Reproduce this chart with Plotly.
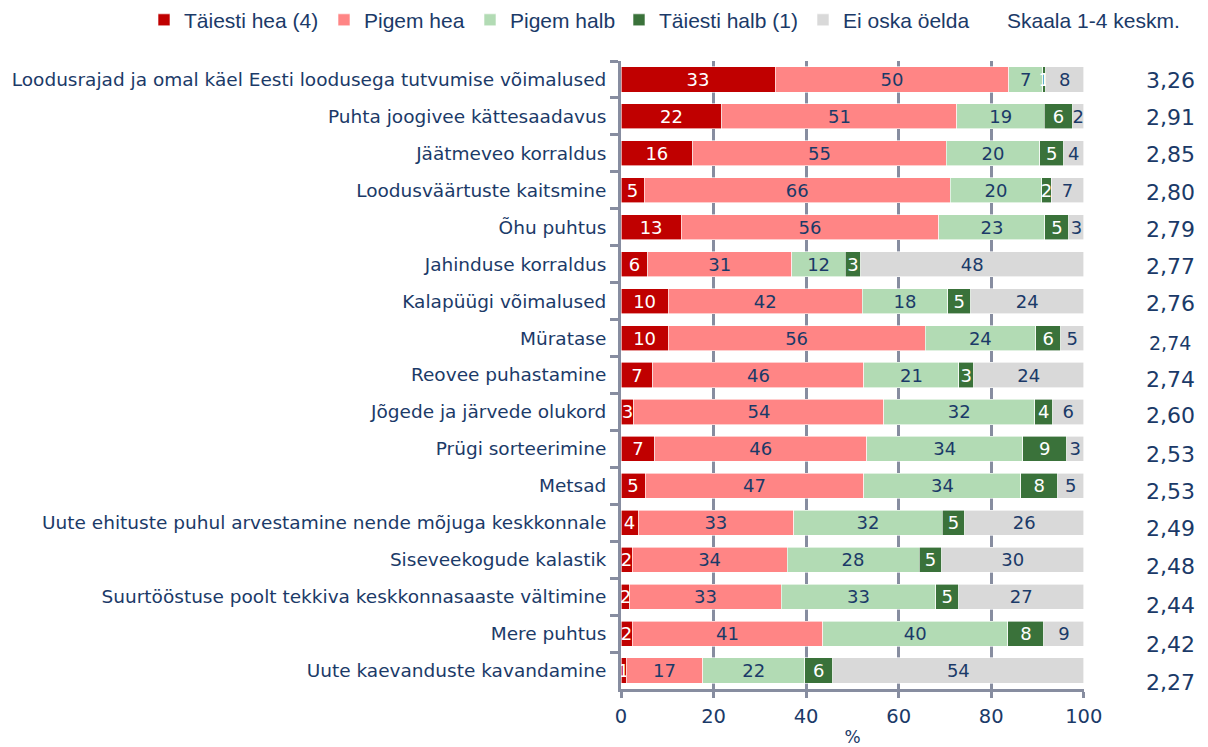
import plotly.graph_objects as go

categories = [
    "Loodusrajad ja omal käel Eesti loodusega tutvumise võimalused",
    "Puhta joogivee kättesaadavus",
    "Jäätmeveo korraldus",
    "Loodusväärtuste kaitsmine",
    "Õhu puhtus",
    "Jahinduse korraldus",
    "Kalapüügi võimalused",
    "Müratase",
    "Reovee puhastamine",
    "Jõgede ja järvede olukord",
    "Prügi sorteerimine",
    "Metsad",
    "Uute ehituste puhul arvestamine nende mõjuga keskkonnale",
    "Siseveekogude kalastik",
    "Suurtööstuse poolt tekkiva keskkonnasaaste vältimine",
    "Mere puhtus",
    "Uute kaevanduste kavandamine",
]

series_names = ["Täiesti hea (4)", "Pigem hea", "Pigem halb", "Täiesti halb (1)", "Ei oska öelda"]

# bar lengths (share, %)
tais_hea = [33.3, 21.8, 15.5, 5.0, 13.0, 5.8, 10.2, 10.2, 6.9, 2.8, 7.3, 5.2, 3.7, 2.4, 1.9, 2.4, 1.1]
pigem_hea = [50.5, 50.8, 54.8, 66.2, 55.7, 31.1, 41.9, 55.5, 45.6, 54.0, 45.8, 47.3, 33.6, 33.5, 32.7, 41.2, 16.6]
pigem_halb = [7.3, 18.9, 20.2, 19.7, 22.9, 11.6, 18.5, 23.9, 20.5, 32.6, 33.7, 33.9, 32.1, 28.5, 33.4, 40.0, 22.0]
tais_halb = [0.7, 6.1, 5.2, 2.1, 5.2, 3.3, 5.0, 5.4, 3.2, 3.9, 9.5, 8.0, 4.9, 4.9, 5.0, 7.8, 6.1]
ei_oska = [8.2, 2.4, 4.3, 7.0, 3.2, 48.2, 24.4, 5.0, 23.8, 6.7, 3.7, 5.6, 25.7, 30.7, 27.0, 8.6, 54.2]

# printed labels
lab_tais_hea = [33, 22, 16, 5, 13, 6, 10, 10, 7, 3, 7, 5, 4, 2, 2, 2, 1]
lab_pigem_hea = [50, 51, 55, 66, 56, 31, 42, 56, 46, 54, 46, 47, 33, 34, 33, 41, 17]
lab_pigem_halb = [7, 19, 20, 20, 23, 12, 18, 24, 21, 32, 34, 34, 32, 28, 33, 40, 22]
lab_tais_halb = [1, 6, 5, 2, 5, 3, 5, 6, 3, 4, 9, 8, 5, 5, 5, 8, 6]
lab_ei_oska = [8, 2, 4, 7, 3, 48, 24, 5, 24, 6, 3, 5, 26, 30, 27, 9, 54]

means = ["3,26", "2,91", "2,85", "2,80", "2,79", "2,77", "2,76", "2,74", "2,74",
         "2,60", "2,53", "2,53", "2,49", "2,48", "2,44", "2,42", "2,27"]

x_ticks = [0, 20, 40, 60, 80, 100]

NAVY = "#1B3A68"
GRID = "#878DA0"
colors = ["#C00000", "#FF8585", "#B2DBB4", "#3A723A", "#D9D9D9"]
text_colors = ["white", NAVY, NAVY, "white", NAVY]
FONT = "DejaVu Sans"
LFONT = "Liberation Sans"

values = [tais_hea, pigem_hea, pigem_halb, tais_halb, ei_oska]
labels = [lab_tais_hea, lab_pigem_hea, lab_pigem_halb, lab_tais_halb, lab_ei_oska]

# legend placement (paper x of each legend box)
PLOT_L, PLOT_W = 621, 463
legend_px = [167, 347, 493, 642, 826]
legend_ids = ["legend", "legend2", "legend3", "legend4", "legend5"]

fig = go.Figure()
for name, vals, labs, col, tcol, lid in zip(series_names, values, labels, colors, text_colors, legend_ids):
    fig.add_trace(go.Bar(
        y=categories, x=vals, name=name, orientation="h", legend=lid,
        marker=dict(color=col, line=dict(color="white", width=0.6)),
        text=[str(v) for v in labs], textposition="inside",
        insidetextanchor="middle", textangle=0, constraintext="none",
        insidetextfont=dict(color=tcol, size=18, family=FONT),
        cliponaxis=False, hoverinfo="x+y+name",
    ))

# mean column
mean_shift = [0, 0, 0, -1, -1, -1, -1, -4, -3, -3, -5, -5, -5, -6, -8, -10, -11]
for cat, m, s in zip(categories, means, mean_shift):
    fig.add_annotation(x=1.186, xref="paper", xanchor="center", y=cat, yref="y", text=m,
                       showarrow=False, yshift=s - 1,
                       font=dict(size=19 if s == -4 else 22, color=NAVY, family=FONT))

fig.add_annotation(x=0.829, xref="paper", y=1.065, yref="paper", yanchor="middle",
                   text="Skaala 1-4 keskm.", showarrow=False, xanchor="left",
                   font=dict(size=21, color=NAVY, family=LFONT))

legend_layout = {}
for lid, px in zip(legend_ids, legend_px):
    legend_layout[lid] = dict(
        orientation="h", x=(px - 23 - PLOT_L) / PLOT_W, xanchor="left",
        y=1.065, yanchor="middle", itemwidth=30,
        font=dict(size=21, color=NAVY, family=LFONT), bgcolor="rgba(0,0,0,0)")

fig.update_layout(
    barmode="stack", bargap=0.32,
    width=1200, height=739,
    margin=dict(l=613, r=124, t=53, b=58, autoexpand=False),
    paper_bgcolor="white", plot_bgcolor="white",
    font=dict(family=FONT, color=NAVY, size=16),
    uniformtext=dict(minsize=18, mode="show"),
    showlegend=True,
    xaxis=dict(range=[0, 100.05], tickvals=x_ticks, ticktext=[str(t) for t in x_ticks],
               showgrid=True, gridcolor=GRID, gridwidth=3,
               showline=True, linecolor=GRID, linewidth=3,
               ticks="outside", ticklen=6, tickwidth=3, tickcolor=GRID,
               ticklabelstandoff=2,
               tickfont=dict(size=19.5, color=NAVY, family=FONT),
               title=dict(text="%", font=dict(size=17, color=NAVY, family=FONT), standoff=10),
               zeroline=False, fixedrange=True),
    yaxis=dict(autorange="reversed", showline=True, linecolor=GRID, linewidth=3,
               ticks="outside", tickson="boundaries", ticklen=8, tickwidth=3, tickcolor=GRID,
               ticklabelstandoff=8,
               tickfont=dict(size=18.5, color=NAVY, family=FONT), showgrid=False,
               fixedrange=True),
    **legend_layout,
)

fig.write_html("out.html")
